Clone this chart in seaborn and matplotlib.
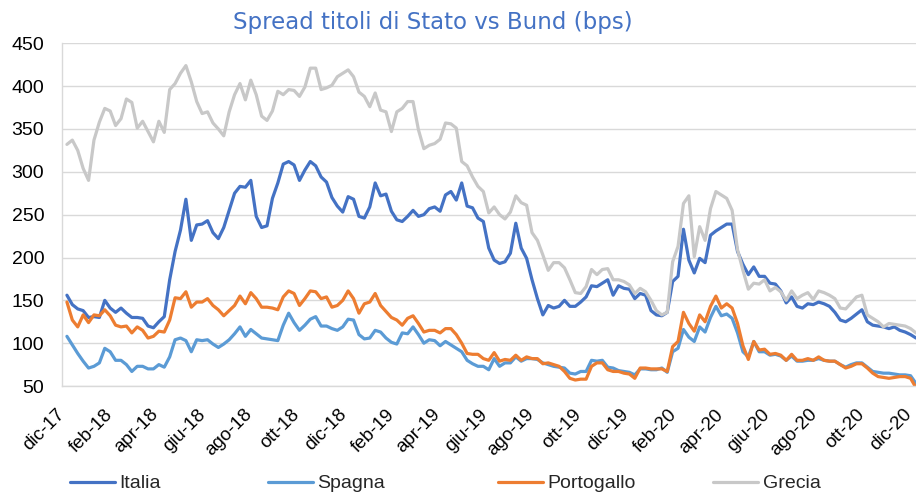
import matplotlib
matplotlib.use("Agg")
import matplotlib.pyplot as plt
from matplotlib.lines import Line2D
from matplotlib.transforms import ScaledTranslation
import seaborn as sns
import pandas as pd

# Weekly spreads vs Bund (bps), first observation early Dec 2017
start_date = "2017-12-07"

italia = [156, 145, 140, 138, 130, 131, 130, 150, 141, 136, 141, 135, 130, 130, 129, 120, 118, 125, 131, 174, 207, 232, 268,
          220, 238, 239, 243, 229, 222, 235, 255, 275, 283, 282, 290, 248, 235, 237, 269, 287, 309, 312, 308, 290, 302, 312, 307,
          294, 288, 270, 260, 253, 271, 268, 248, 246, 259, 287, 272, 274, 254, 244, 242, 248, 255, 248, 250, 257, 259, 254,
          273, 277, 267, 287, 260, 258, 246, 242, 211, 197, 193, 195, 205, 240, 211, 199, 174, 152, 133, 144, 141, 143, 150,
          143, 143, 148, 154, 167, 166, 170, 174, 156, 167, 164, 163, 152, 158, 156, 138, 133, 132, 136, 172, 178, 233, 197,
          182, 199, 194, 226, 231, 235, 239, 239, 207, 192, 180, 189, 178, 178, 170, 169, 161, 147, 154, 143, 141, 146, 145,
          148, 146, 143, 136, 127, 125, 129, 134, 139, 125, 121, 120, 119, 117, 119, 115, 113, 110, 106]

spagna = [108, 98, 88, 79, 71, 73, 77, 94, 90, 80, 80, 75, 67, 73, 73, 70, 70, 75, 72, 84, 104, 106, 103,
          90, 104, 103, 104, 99, 95, 99, 104, 111, 119, 108, 116, 111, 106, 105, 104, 103, 121, 135, 124, 115, 121, 128, 131,
          120, 120, 117, 115, 119, 128, 127, 110, 105, 106, 115, 113, 106, 101, 99, 112, 111, 119, 110, 100, 104, 103, 97,
          102, 98, 94, 90, 80, 76, 73, 73, 69, 82, 73, 77, 77, 84, 79, 82, 82, 81, 77, 75, 73, 72, 71,
          65, 64, 67, 67, 80, 79, 80, 72, 71, 68, 67, 66, 63, 70, 70, 69, 69, 71, 66, 90, 94, 116, 107,
          102, 119, 113, 130, 143, 132, 134, 129, 112, 90, 84, 102, 90, 90, 86, 87, 85, 80, 85, 79, 79, 80, 80,
          82, 80, 79, 79, 75, 72, 75, 77, 77, 72, 67, 66, 65, 65, 64, 63, 63, 62, 53]

portogallo = [148, 127, 119, 133, 124, 133, 132, 139, 132, 121, 119, 120, 112, 119, 115, 106, 108, 114, 113, 127, 153, 152, 160,
              142, 148, 148, 152, 144, 139, 132, 138, 144, 155, 146, 159, 152, 142, 142, 141, 139, 154, 161, 158, 144, 152, 161, 160,
              152, 154, 142, 144, 150, 161, 152, 135, 146, 148, 158, 144, 137, 130, 127, 121, 129, 132, 123, 113, 115, 115, 112,
              117, 117, 110, 100, 88, 87, 87, 82, 80, 89, 79, 81, 80, 86, 80, 84, 82, 82, 76, 77, 75, 73, 67,
              59, 57, 58, 58, 73, 77, 77, 69, 67, 67, 65, 64, 59, 71, 71, 70, 70, 70, 67, 96, 102, 136, 123,
              114, 133, 125, 143, 155, 141, 146, 141, 123, 97, 81, 102, 92, 93, 87, 88, 86, 80, 87, 80, 80, 82, 80,
              84, 80, 79, 79, 75, 71, 73, 76, 76, 71, 65, 61, 60, 59, 60, 61, 61, 59, 48]

grecia = [332, 337, 325, 304, 290, 337, 358, 374, 371, 354, 362, 385, 381, 351, 359, 347, 335, 359, 346, 396, 403, 415, 424,
          405, 382, 368, 370, 357, 350, 342, 370, 390, 403, 384, 407, 390, 365, 360, 371, 394, 390, 396, 395, 388, 399, 421, 421,
          396, 398, 401, 411, 415, 419, 411, 393, 388, 376, 392, 372, 370, 347, 370, 374, 382, 382, 349, 327, 331, 333, 338,
          357, 356, 351, 312, 307, 294, 283, 277, 252, 259, 250, 245, 253, 272, 264, 261, 229, 220, 203, 185, 194, 194, 188,
          174, 159, 158, 166, 186, 180, 186, 187, 174, 174, 172, 168, 158, 164, 160, 150, 138, 133, 136, 195, 213, 263, 272,
          201, 236, 220, 257, 277, 273, 269, 255, 209, 185, 163, 170, 169, 174, 161, 165, 160, 150, 161, 152, 156, 159, 151,
          161, 159, 156, 152, 141, 140, 147, 154, 156, 133, 129, 125, 119, 123, 122, 121, 120, 117, 112]

series_names = ["Italia", "Spagna", "Portogallo", "Grecia"]
colors = ["#4472C4", "#5B9BD5", "#ED7D31", "#C8C8C8"]

tick_labels = ["dic-17", "feb-18", "apr-18", "giu-18", "ago-18", "ott-18", "dic-18",
               "feb-19", "apr-19", "giu-19", "ago-19", "ott-19", "dic-19",
               "feb-20", "apr-20", "giu-20", "ago-20", "ott-20", "dic-20"]
y_ticks = [50, 100, 150, 200, 250, 300, 350, 400, 450]


def create_chart():
    dates = pd.date_range(start_date, periods=len(italia), freq="7D")
    df = pd.DataFrame({"Data": dates, "Italia": italia, "Spagna": spagna,
                       "Portogallo": portogallo, "Grecia": grecia})
    long_df = df.melt(id_vars="Data", var_name="Paese", value_name="Spread")

    sns.set_style("white")
    plt.rcParams["font.family"] = ["Liberation Sans", "DejaVu Sans"]

    fig = plt.figure(figsize=(9.16, 4.92), dpi=100)
    ax = fig.add_axes([0.068, 0.2154, 0.932, 0.6966])

    sns.lineplot(data=long_df, x="Data", y="Spread", hue="Paese",
                 hue_order=series_names, palette=colors, linewidth=2.3,
                 legend=False, ax=ax)
    for line in ax.get_lines():
        line.set_solid_joinstyle("round")
        line.set_solid_capstyle("round")

    # axes / grid like the Excel original
    ax.set_xlim(pd.Timestamp("2017-12-01"), pd.Timestamp("2020-12-10"))
    ax.set_ylim(50, 450)
    ax.set_yticks(y_ticks)
    ax.yaxis.grid(True, color="#D9D9D9", linewidth=1)
    ax.set_axisbelow(True)
    for side in ["top", "right"]:
        ax.spines[side].set_visible(False)
    for side in ["left", "bottom"]:
        ax.spines[side].set_color("#D9D9D9")
        ax.spines[side].set_linewidth(1)

    tick_dates = pd.date_range("2017-12-01", "2020-12-01", freq="2MS")
    ax.set_xticks(tick_dates)
    ax.set_xticklabels(tick_labels, rotation=45, ha="right", va="baseline",
                       rotation_mode="anchor")
    ax.tick_params(axis="x", length=5, width=1, color="#D9D9D9", pad=16,
                   labelsize=13.5, labelcolor="black")
    ax.tick_params(axis="y", length=0, pad=13, labelsize=14, labelcolor="black")
    # nudge rotated date labels a little to the right, as in the original
    shift = ScaledTranslation(0.03, 0, fig.dpi_scale_trans)
    for lab in ax.get_xticklabels():
        lab.set_transform(lab.get_transform() + shift)
    ax.set_xlabel("")
    ax.set_ylabel("")

    fig.text(0.472, 0.955, "Spread titoli di Stato vs Bund (bps)", ha="center", va="center",
             fontsize=16.5, color="#4472C4", family="DejaVu Sans")

    # one legend entry per slot, Excel spaces them unevenly
    legend_x = [70, 268, 498, 713]
    for name, c, x0 in zip(series_names, colors, legend_x):
        fig.legend([Line2D([0], [0], color=c, linewidth=2.3)], [name],
                   loc="center left", bbox_to_anchor=(x0 / 916, 0.017),
                   frameon=False, fontsize=14, handlelength=2.3,
                   handletextpad=0.25, borderpad=0, borderaxespad=0)

    fig.savefig("out.png", dpi=100)


if __name__ == "__main__":
    create_chart()
